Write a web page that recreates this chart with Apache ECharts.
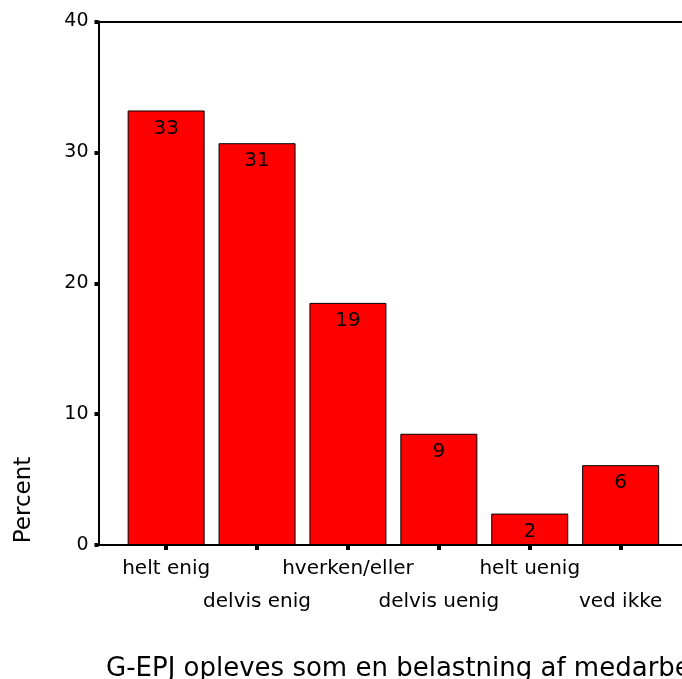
<!DOCTYPE html>
<html>
<head>
<meta charset="utf-8">
<script src="https://cdn.jsdelivr.net/npm/echarts@6/dist/echarts.min.js"></script>
<style>html,body{margin:0;padding:0;background:#fff;}#c{width:682px;height:679px;}</style>
</head>
<body>
<div id="c"></div>
<script>
const categories = ['helt enig', 'delvis enig', 'hverken/eller', 'delvis uenig', 'helt uenig', 'ved ikke'];
const percentValues = [33.2, 30.7, 18.5, 8.5, 2.4, 6.1];
const yTicks = [0, 10, 20, 30, 40];
const xTitle = 'G-EPJ opleves som en belastning af medarbejderne';
const yTitle = 'Percent';

const FONT = 'DejaVu Sans';
const chart = echarts.init(document.getElementById('c'), null, {renderer: 'canvas'});
chart.setOption({
  animation: false,
  backgroundColor: '#fff',
  title: {
    text: xTitle,
    left: 101, top: 651,
    textStyle: {fontFamily: FONT, fontSize: 26, fontWeight: 'normal', color: '#000'}
  },
  graphic: [{
    type: 'text', rotation: Math.PI / 2, x: 24, y: 500,
    style: {text: yTitle, fontFamily: FONT, fontSize: 23, fill: '#000', align: 'center', verticalAlign: 'middle'}
  }],
  grid: [
    {left: 98.5, width: 591, top: 21.5, bottom: 134},
    {left: 120.7, width: 545.4, top: 21.5, bottom: 134}
  ],
  xAxis: [{
    gridIndex: 0, type: 'value', min: 0, max: 1, position: 'bottom',
    splitLine: {show: false},
    axisLine: {show: true, onZero: false, lineStyle: {color: '#000', width: 2}},
    axisTick: {show: false}, axisLabel: {show: false}
  }, {
    gridIndex: 0, type: 'value', min: 0, max: 1, position: 'top',
    splitLine: {show: false},
    axisLine: {show: true, onZero: false, lineStyle: {color: '#000', width: 2}},
    axisTick: {show: false}, axisLabel: {show: false}
  }, {
    gridIndex: 1, type: 'category', data: categories, position: 'bottom',
    axisLine: {show: false, onZero: false},
    axisTick: {show: true, alignWithLabel: true, length: 5, lineStyle: {color: '#000', width: 4}},
    axisLabel: {
      interval: 0, margin: 7, color: '#000', fontFamily: FONT, fontSize: 20, lineHeight: 33,
      verticalAlign: 'top',
      formatter: (v, i) => (i % 2 === 1 ? '\n' : '') + v
    }
  }],
  yAxis: [{
    gridIndex: 0, type: 'value', min: 0, max: 40, interval: 10,
    splitLine: {show: false},
    axisLine: {show: true, onZero: false, lineStyle: {color: '#000', width: 2}},
    axisTick: {show: true, length: 4, lineStyle: {color: '#000', width: 4}},
    axisLabel: {margin: 10, color: '#000', fontFamily: FONT, fontSize: 19,
      formatter: v => yTicks.includes(v) ? String(v) : ''}
  }, {
    gridIndex: 1, type: 'value', min: 0, max: 40, show: false
  }],
  series: [{
    type: 'bar',
    xAxisIndex: 2, yAxisIndex: 1,
    barWidth: 77,
    data: percentValues,
    itemStyle: {color: '#ff0000', borderColor: '#000', borderWidth: 1},
    label: {
      show: true, position: 'insideTop', distance: 8,
      color: '#000', fontFamily: FONT, fontSize: 20,
      formatter: p => String(Math.round(p.value))
    }
  }]
});
</script>
</body>
</html>
